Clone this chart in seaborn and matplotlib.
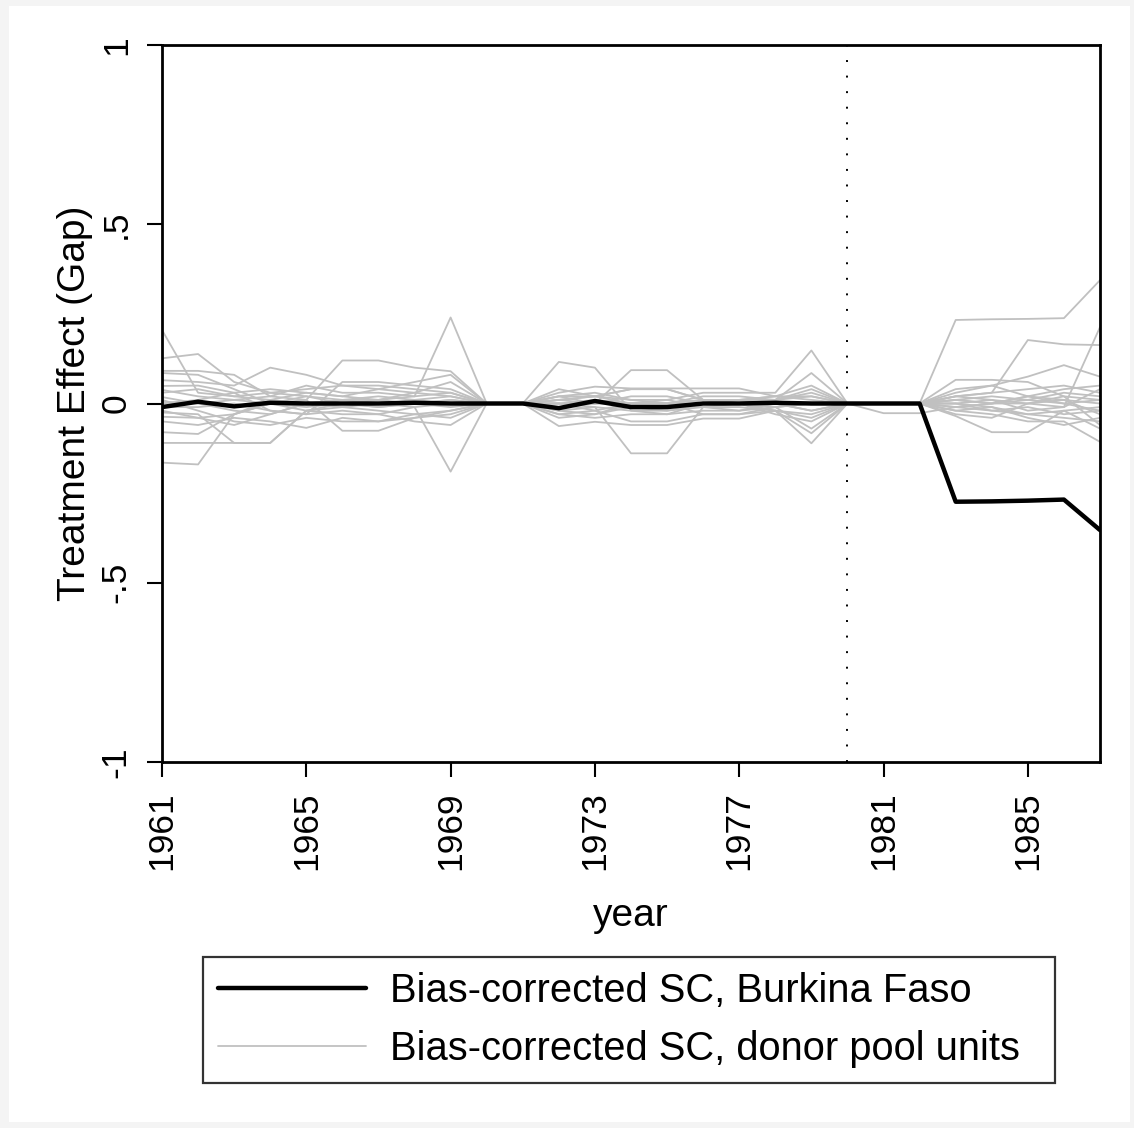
import matplotlib
matplotlib.use("Agg")
import matplotlib.pyplot as plt
import seaborn as sns
import pandas as pd
from matplotlib.lines import Line2D
from matplotlib.patches import Rectangle

years = list(range(1961, 1988))

burkina_gap = [-0.010, 0.005, -0.008, 0.002, 0.000, 0.000, 0.000, 0.002, 0.000,
               0.000, 0.000, -0.013, 0.007, -0.010, -0.010, 0.000, 0.000, 0.002,
               0.000, 0.000, 0.000, 0.000, -0.274, -0.273, -0.271, -0.268, -0.353]

donor_01 = [0.205, 0.030, 0.020, 0.010, 0.000, 0.010, 0.010, 0.020, 0.240, 0, 0, 0.010, 0.020, 0.040, 0.040, 0.010, 0.000, 0.010, 0.020, 0, 0, 0, 0.233, 0.235, 0.236, 0.238, 0.344]
donor_02 = [0.126, 0.138, 0.060, 0.030, 0.020, 0.000, -0.010, 0.000, 0.010, 0, 0, 0.116, 0.100, -0.020, -0.030, 0.000, 0.010, 0.000, -0.020, 0, 0, 0, 0.020, 0.030, 0.177, 0.165, 0.163]
donor_03 = [0.091, 0.091, 0.080, 0.020, 0.010, 0.120, 0.120, 0.100, 0.090, 0, 0, 0.020, 0.000, 0.093, 0.093, 0.010, 0.000, 0.010, 0.085, 0, 0, 0, 0.010, 0.000, 0.000, -0.010, 0.213]
donor_04 = [0.085, 0.080, 0.040, 0.000, -0.020, -0.030, -0.030, -0.010, -0.190, 0, 0, -0.020, -0.010, -0.139, -0.139, -0.010, 0.000, -0.020, -0.111, 0, 0, 0, 0.030, 0.050, 0.075, 0.107, 0.075]
donor_05 = [0.065, 0.060, 0.050, 0.100, 0.080, 0.050, 0.040, 0.030, 0.020, 0, 0, 0.030, 0.047, 0.042, 0.042, 0.042, 0.042, 0.020, 0.010, 0, 0, 0, 0.066, 0.066, 0.060, 0.020, 0.010]
donor_06 = [0.049, 0.050, 0.030, -0.020, -0.030, 0.060, 0.060, 0.050, 0.040, 0, 0, -0.063, -0.051, -0.060, -0.060, -0.042, -0.042, -0.020, -0.083, 0, 0, 0, -0.035, -0.080, -0.080, -0.020, -0.010]
donor_07 = [0.038, 0.020, 0.010, 0.020, 0.050, 0.030, 0.030, 0.020, 0.030, 0, 0, 0.010, 0.020, 0.000, 0.010, 0.030, 0.030, 0.030, 0.148, 0, -0.027, -0.027, -0.010, 0.000, 0.020, 0.040, 0.050]
donor_08 = [0.018, 0.000, -0.020, -0.030, 0.000, 0.010, 0.020, 0.010, 0.000, 0, 0, 0.000, -0.010, -0.020, -0.020, 0.000, 0.000, -0.030, -0.050, 0, 0, 0, -0.020, -0.030, -0.050, -0.050, -0.107]
donor_09 = [-0.025, -0.030, -0.110, -0.110, -0.020, -0.010, 0.000, 0.010, 0.020, 0, 0, 0.020, 0.030, 0.010, 0.000, 0.020, 0.020, 0.010, 0.030, 0, 0, 0, 0.010, 0.020, 0.010, 0.030, 0.020]
donor_10 = [-0.037, -0.040, -0.030, 0.000, 0.010, -0.076, -0.076, -0.040, -0.020, 0, 0, -0.030, -0.020, -0.050, -0.050, -0.030, -0.030, -0.010, 0.000, 0, 0, 0, 0.000, -0.010, -0.030, -0.040, -0.050]
donor_11 = [-0.050, -0.060, -0.040, -0.050, -0.068, -0.040, -0.050, -0.030, -0.020, 0, 0, 0.000, 0.010, 0.000, -0.010, 0.000, 0.010, 0.020, 0.050, 0, 0, 0, 0.020, 0.010, 0.000, 0.010, 0.000]
donor_12 = [-0.080, -0.085, -0.030, 0.010, 0.030, 0.020, 0.010, 0.000, 0.010, 0, 0, 0.040, 0.020, 0.010, 0.010, -0.010, -0.020, 0.000, -0.020, 0, 0, 0, -0.010, 0.000, 0.020, 0.010, -0.030]
donor_13 = [-0.110, -0.110, -0.110, -0.110, -0.020, 0.000, -0.010, 0.000, -0.010, 0, 0, -0.010, 0.000, 0.020, 0.020, 0.000, 0.000, 0.000, 0.000, 0, 0, 0, 0.000, 0.010, -0.020, -0.010, 0.040]
donor_14 = [-0.165, -0.170, -0.030, 0.000, 0.020, 0.010, 0.000, -0.010, 0.000, 0, 0, 0.000, -0.020, 0.000, 0.000, 0.010, 0.000, -0.010, 0.000, 0, 0, 0, -0.030, -0.040, 0.000, 0.020, -0.060]
donor_15 = [0.000, 0.010, 0.030, 0.040, 0.030, 0.020, 0.040, 0.060, 0.080, 0, 0, 0.000, 0.000, 0.000, 0.000, 0.000, 0.000, 0.000, 0.000, 0, 0, 0, 0.040, 0.050, 0.020, 0.000, 0.010]
donor_16 = [0.010, -0.020, -0.050, -0.060, -0.040, -0.050, -0.050, -0.040, -0.030, 0, 0, -0.020, -0.030, -0.010, -0.020, -0.010, -0.010, -0.020, -0.030, 0, 0, 0, -0.010, -0.020, -0.010, -0.030, -0.020]
donor_17 = [0.030, 0.040, 0.020, 0.030, 0.040, 0.050, 0.050, 0.040, 0.030, 0, 0, 0.020, 0.020, 0.040, 0.040, 0.010, 0.010, 0.020, 0.020, 0, 0, 0, 0.020, 0.030, 0.040, 0.050, 0.030]
donor_18 = [-0.010, -0.010, 0.000, -0.020, -0.030, -0.020, -0.030, -0.050, -0.060, 0, 0, -0.030, -0.040, -0.030, -0.030, -0.020, -0.020, -0.010, -0.070, 0, 0, 0, -0.020, -0.010, -0.040, -0.060, -0.040]
donor_19 = [0.005, 0.000, 0.010, 0.000, -0.010, 0.000, 0.010, 0.030, 0.060, 0, 0, 0.010, 0.000, 0.000, 0.000, 0.010, 0.010, 0.010, 0.040, 0, 0, 0, 0.010, 0.000, 0.010, 0.000, -0.020]
donor_20 = [-0.020, -0.040, -0.060, -0.030, 0.000, -0.010, -0.020, -0.030, -0.040, 0, 0, -0.040, -0.030, 0.000, 0.000, -0.030, -0.030, -0.020, -0.040, 0, 0, 0, 0.000, -0.020, -0.030, -0.020, -0.070]

donor_units = [donor_01, donor_02, donor_03, donor_04, donor_05, donor_06, donor_07,
               donor_08, donor_09, donor_10, donor_11, donor_12, donor_13, donor_14,
               donor_15, donor_16, donor_17, donor_18, donor_19, donor_20]

label_bf = "Bias-corrected SC, Burkina Faso"
label_donor = "Bias-corrected SC, donor pool units"
y_ticks = [-1, -0.5, 0, 0.5, 1]
y_ticklabels = ["-1", "-.5", "0", ".5", "1"]
x_ticks = [1961, 1965, 1969, 1973, 1977, 1981, 1985]
treatment_year = 1980

rows = []
for i, series in enumerate(donor_units):
    for yr, v in zip(years, series):
        rows.append({"unit": i, "year": yr, "gap": v})
donor_df = pd.DataFrame(rows)
bf_df = pd.DataFrame({"year": years, "gap": burkina_gap})

sns.set_theme(style="white")
plt.rcParams["font.family"] = ["Liberation Sans", "DejaVu Sans"]
plt.rcParams["text.color"] = "black"
plt.rcParams["axes.labelcolor"] = "black"
plt.rcParams["xtick.color"] = "black"
plt.rcParams["ytick.color"] = "black"

W, H = 1134, 1128
fig = plt.figure(figsize=(W / 100, H / 100), dpi=100, facecolor="#f4f4f4")
fig.patches.append(Rectangle((9 / W, 1 - 1122 / H), (1130 - 9) / W, (1122 - 6) / H,
                             transform=fig.transFigure, facecolor="white",
                             edgecolor="none", zorder=-5))

ax = fig.add_axes([162 / W, 1 - 762 / H, (1100 - 162) / W, (762 - 45) / H])
ax.set_facecolor("white")

sns.lineplot(data=donor_df, x="year", y="gap", units="unit", estimator=None,
             color="#c0c0c0", linewidth=1.3, ax=ax, legend=False)
sns.lineplot(data=bf_df, x="year", y="gap", color="black", linewidth=3.2,
             ax=ax, legend=False)
ax.axvline(treatment_year, color="black", linestyle=(0, (1, 7)), linewidth=1.4, zorder=1)

ax.set_xlim(1961, 1987)
ax.set_ylim(-1, 1)
ax.set_xticks(x_ticks)
ax.set_xticklabels([str(t) for t in x_ticks], rotation=90, fontsize=25.5)
ax.set_yticks(y_ticks)
ax.set_yticklabels(y_ticklabels, rotation=90, va="center", fontsize=25.5)
ax.tick_params(axis="both", direction="out", length=11, width=1.5, color="black",
               labelcolor="black", pad=10, bottom=True, left=True, top=False, right=False)
for s in ax.spines.values():
    s.set_color("black")
    s.set_linewidth(2.0)
    s.set_visible(True)

ax.set_xlabel("year", fontsize=28, labelpad=20, color="black")
ax.set_ylabel("Treatment Effect (Gap)", fontsize=28, labelpad=5, color="black")

handles = [Line2D([], [], color="black", linewidth=3.2),
           Line2D([], [], color="#c0c0c0", linewidth=1.3)]
leg = fig.legend(handles, [label_bf, label_donor], loc="center",
                 bbox_to_anchor=(203 / W, 1 - 1083 / H, 852 / W, 126 / H),
                 mode="expand", frameon=True, fancybox=False, fontsize=28.7,
                 handlelength=3.7, handletextpad=0.6, borderpad=0.38,
                 labelspacing=0.48, borderaxespad=0)
for t in leg.get_texts():
    t.set_color("black")
leg.get_frame().set_edgecolor("black")
leg.get_frame().set_linewidth(1.6)

fig.savefig("out.png", dpi=100, facecolor=fig.get_facecolor())
